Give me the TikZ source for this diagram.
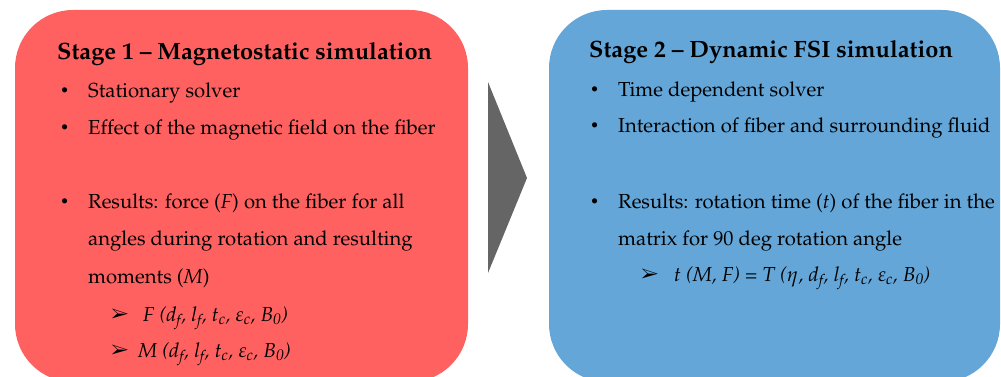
\documentclass[tikz,border=0pt]{standalone}
\usepackage[T1]{fontenc}
\usepackage{mathpazo}
\usepackage{pifont}
\usepackage{tikz}
\usetikzlibrary{positioning}

\definecolor{stageRed}{HTML}{FF6161}
\definecolor{stageBlue}{HTML}{64A6D8}
\definecolor{flowGray}{HTML}{656565}

\begin{document}
\begin{tikzpicture}[x=1pt,y=-1pt,
    stagebox/.style={rounded corners=58pt,minimum width=#1,minimum height=372pt,inner sep=0pt},
    titletext/.style={anchor=base west,inner sep=0pt,font=\fontsize{23.6}{28}\selectfont\bfseries},
    bodytext/.style={anchor=base west,inner sep=0pt,font=\fontsize{20.3}{24}\selectfont},
    dotmark/.style={anchor=base west,inner sep=0pt,font=\fontsize{15}{16}\selectfont},
    tipmark/.style={anchor=base west,inner sep=0pt,font=\fontsize{19}{20}\selectfont}]
  \useasboundingbox (0,0) rectangle (1001,377);
  % the two stages and the arrow between them
  \node[stagebox=453pt,fill=stageRed] (stage1) at (241.5,196) {};
  \node[stagebox=451pt,fill=stageBlue] (stage2) at (774.5,196) {};
  \fill[flowGray] (488,82) -- (527,178) -- (488,273) -- cycle;
  % stage 1
  \node[titletext] (title1) at (57,60) {Stage 1 -- Magnetostatic simulation};
  \foreach \y/\nm in {96/a,133/b,206/c}{
    \node[dotmark] (dot1\nm) at (60,\y) {\textbullet};
  }
  \node[bodytext] (s1a) at (88,98) {Stationary solver};
  \node[bodytext] (s1b) at (88,135) {Effect of the magnetic field on the fiber};
  \node[bodytext] (s1c) at (88,208) {Results: force (\textit{F}) on the fiber for all};
  \node[bodytext] (s1d) at (88,245) {angles during rotation and resulting};
  \node[bodytext] (s1e) at (88,283) {moments (\textit{M})};
  \node[tipmark] (tip1a) at (111,320) {\ding{226}};
  \node[bodytext] (s1f) at (143,321) {\textit{F (d\textsubscript{f}, l\textsubscript{f}, t\textsubscript{c}, $\varepsilon$\textsubscript{c}, B\textsubscript{0})}};
  \node[tipmark] (tip1b) at (111,356) {\ding{226}};
  \node[bodytext] (s1g) at (138,357) {\textit{M (d\textsubscript{f}, l\textsubscript{f}, t\textsubscript{c}, $\varepsilon$\textsubscript{c}, B\textsubscript{0})}};
  % stage 2
  \node[titletext] (title2) at (589,58) {Stage 2 -- Dynamic FSI simulation};
  \foreach \y/\nm in {95/a,131/b,206/c}{
    \node[dotmark] (dot2\nm) at (590,\y) {\textbullet};
  }
  \node[bodytext] (s2a) at (618,97) {Time dependent solver};
  \node[bodytext] (s2b) at (618,133) {Interaction of fiber and surrounding fluid};
  \node[bodytext] (s2c) at (618,208) {Results: rotation time (\textit{t}) of the fiber in the};
  \node[bodytext] (s2d) at (618,245) {matrix for 90 deg rotation angle};
  \node[tipmark] (tip2a) at (641,280) {\ding{226}};
  \node[bodytext] (s2e) at (674,281) {\textit{t (M, F) = T ($\eta$, d\textsubscript{f}, l\textsubscript{f}, t\textsubscript{c}, $\varepsilon$\textsubscript{c}, B\textsubscript{0})}};
\end{tikzpicture}
\end{document}
